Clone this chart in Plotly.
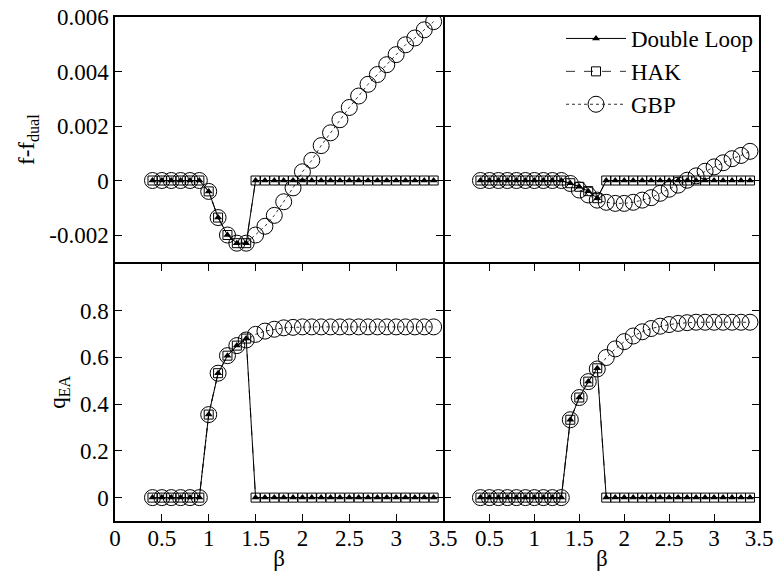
import plotly.graph_objects as go

beta = [0.4, 0.5, 0.6, 0.7, 0.8, 0.9, 1.0, 1.1, 1.2, 1.3, 1.4, 1.5, 1.6, 1.7, 1.8, 1.9,
        2.0, 2.1, 2.2, 2.3, 2.4, 2.5, 2.6, 2.7, 2.8, 2.9, 3.0, 3.1, 3.2, 3.3, 3.4]

# top-left: f - f_dual
tl_dl = [0, 0, 0, 0, 0, 0, -0.0004, -0.00136, -0.002, -0.0023, -0.0023,
         0, 0, 0, 0, 0, 0, 0, 0, 0, 0, 0, 0, 0, 0, 0, 0, 0, 0, 0, 0]
tl_hak = list(tl_dl)
tl_gbp = [0, 0, 0, 0, 0, 0, -0.0004, -0.00136, -0.002, -0.0023, -0.0023,
          -0.002, -0.00168, -0.00128, -0.00078, -0.00027, 0.00032, 0.00074, 0.00128,
          0.00175, 0.00223, 0.00268, 0.0031, 0.00353, 0.00389, 0.00425, 0.00462,
          0.00498, 0.00523, 0.00553, 0.00583]

# top-right: f - f_dual
tr_dl = [0, 0, 0, 0, 0, 0, 0, 0, 0, 0, -0.0001, -0.00023, -0.00039, -0.00065,
         0, 0, 0, 0, 0, 0, 0, 0, 0, 0, 0, 0, 0, 0, 0, 0, 0]
tr_hak = list(tr_dl)
tr_gbp = [0, 0, 0, 0, 0, 0, 0, 0, 0, 0, -0.00011, -0.00035, -0.00053, -0.00072,
          -0.0008, -0.00084, -0.00084, -0.0008, -0.00072, -0.00063, -0.00047, -0.00032,
          -0.00017, 0.00001, 0.00017, 0.00034, 0.0005, 0.00065, 0.0008, 0.00092, 0.00107]

# bottom-left: q_EA
bl_dl = [0, 0, 0, 0, 0, 0, 0.355, 0.532, 0.607, 0.65, 0.68,
         0, 0, 0, 0, 0, 0, 0, 0, 0, 0, 0, 0, 0, 0, 0, 0, 0, 0, 0, 0]
bl_hak = list(bl_dl)
bl_gbp = [0, 0, 0, 0, 0, 0, 0.355, 0.532, 0.607, 0.65, 0.674, 0.698, 0.712, 0.72,
          0.726, 0.728, 0.73, 0.73, 0.73, 0.73, 0.73, 0.73, 0.73, 0.73, 0.73, 0.73,
          0.73, 0.73, 0.73, 0.73, 0.73]

# bottom-right: q_EA
br_dl = [0, 0, 0, 0, 0, 0, 0, 0, 0, 0, 0.333, 0.428, 0.496, 0.553,
         0, 0, 0, 0, 0, 0, 0, 0, 0, 0, 0, 0, 0, 0, 0, 0, 0]
br_hak = list(br_dl)
br_gbp = [0, 0, 0, 0, 0, 0, 0, 0, 0, 0, 0.333, 0.428, 0.496, 0.55, 0.599, 0.636,
          0.667, 0.691, 0.709, 0.723, 0.733, 0.74, 0.745, 0.748, 0.75, 0.75, 0.75,
          0.75, 0.75, 0.75, 0.75]

x_ticks_left = [0, 0.5, 1, 1.5, 2, 2.5, 3, 3.5]
x_text_left = ["0", "0.5", "1", "1.5", "2", "2.5", "3", "3.5"]
x_ticks_right = [0.5, 1, 1.5, 2, 2.5, 3, 3.5]
x_text_right = ["0.5", "1", "1.5", "2", "2.5", "3", "3.5"]
f_ticks = [-0.002, 0, 0.002, 0.004, 0.006]
f_text = ["-0.002", "0", "0.002", "0.004", "0.006"]
q_ticks = [0, 0.2, 0.4, 0.6, 0.8]
q_text = ["0", "0.2", "0.4", "0.6", "0.8"]

FONT = "Liberation Serif, Times New Roman, Times, serif"
FS = 23

fig = go.Figure()

panels = [
    ("x", "y", tl_dl, tl_hak, tl_gbp, True),
    ("x2", "y2", tr_dl, tr_hak, tr_gbp, False),
    ("x3", "y3", bl_dl, bl_hak, bl_gbp, False),
    ("x4", "y4", br_dl, br_hak, br_gbp, False),
]

for xa, ya, dl, hak, gbp, show in panels:
    fig.add_trace(go.Scatter(
        x=beta, y=gbp, xaxis=xa, yaxis=ya, name="GBP", legendrank=3,
        mode="lines+markers", showlegend=show,
        line=dict(color="#333333", width=1, dash="dot"),
        marker=dict(symbol="circle-open", size=16, color="black",
                    line=dict(width=1, color="black")),
        hoverinfo="skip"))
    fig.add_trace(go.Scatter(
        x=beta, y=hak, xaxis=xa, yaxis=ya, name="HAK", legendrank=2,
        mode="lines+markers", showlegend=show,
        line=dict(color="#333333", width=1, dash="dash"),
        marker=dict(symbol="square-open", size=9, color="black",
                    line=dict(width=1, color="black")),
        hoverinfo="skip"))
    fig.add_trace(go.Scatter(
        x=beta, y=dl, xaxis=xa, yaxis=ya, name="Double Loop", legendrank=1,
        mode="lines+markers", showlegend=show,
        line=dict(color="black", width=1),
        marker=dict(symbol="triangle-up", size=7, color="black"),
        hoverinfo="skip"))

W, H = 776, 583
ML, MR, MT, MB = 115, 17, 17, 62
pw = W - ML - MR
ph = H - MT - MB
LW = 1.5
xsplit = (443 - 115) / pw
ysplit = (521 - 263) / ph
gx = LW / pw
gy = LW / ph

axis_common = dict(showline=True, linecolor="black", linewidth=LW, mirror=True,
                   showgrid=False, zeroline=False, ticklabeloverflow="allow",
                   tickfont=dict(family=FONT, size=FS, color="black"),
                   ticklen=7, tickwidth=1, tickcolor="black")

fig.update_layout(
    width=W, height=H,
    margin=dict(l=ML, r=MR, t=MT, b=MB, autoexpand=False),
    paper_bgcolor="white", plot_bgcolor="white",
    font=dict(family=FONT, size=FS, color="black"),
    showlegend=True,
    legend=dict(x=1, y=1, xanchor="right", yanchor="top",
                bgcolor="rgba(0,0,0,0)", font=dict(family=FONT, size=FS),
                tracegroupgap=0, itemwidth=60),
    xaxis=dict(domain=[0, xsplit], range=[0, 3.5], anchor="y",
               ticks="", showticklabels=False, **axis_common),
    yaxis=dict(domain=[ysplit + gy / 2, 1], range=[-0.003, 0.006], anchor="x",
               ticks="inside", tickvals=f_ticks, ticktext=f_text,
               title=dict(text="f-f<sub>dual</sub>", standoff=8,
                          font=dict(family=FONT, size=FS)),
               **{**axis_common, "mirror": "allticks"}),
    xaxis2=dict(domain=[xsplit + gx, 1], range=[0, 3.5], anchor="y2",
                ticks="", showticklabels=False, **axis_common),
    yaxis2=dict(domain=[ysplit + gy / 2, 1], range=[-0.003, 0.006], anchor="x2",
                ticks="inside", tickvals=f_ticks, showticklabels=False,
                **{**axis_common, "mirror": "allticks"}),
    xaxis3=dict(domain=[0, xsplit], range=[0, 3.5], anchor="y3",
                ticks="inside", tickvals=x_ticks_left, ticktext=x_text_left,
                ticklabelstandoff=-4,
                title=dict(text="β", standoff=0, font=dict(family=FONT, size=FS)),
                **{**axis_common, "mirror": "allticks"}),
    yaxis3=dict(domain=[0, ysplit - gy / 2], range=[-0.1, 1.0], anchor="x3",
                ticks="inside", tickvals=q_ticks, ticktext=q_text,
                title=dict(text="q<sub>EA</sub>", standoff=8,
                           font=dict(family=FONT, size=FS)),
                **{**axis_common, "mirror": "allticks"}),
    xaxis4=dict(domain=[xsplit + gx, 1], range=[0, 3.5], anchor="y4",
                ticks="inside", tickvals=x_ticks_right, ticktext=x_text_right,
                ticklabelstandoff=-4,
                title=dict(text="β", standoff=0, font=dict(family=FONT, size=FS)),
                **{**axis_common, "mirror": "allticks"}),
    yaxis4=dict(domain=[0, ysplit - gy / 2], range=[-0.1, 1.0], anchor="x4",
                ticks="inside", tickvals=q_ticks, showticklabels=False,
                **{**axis_common, "mirror": "allticks"}),
)

fig.write_html("out.html", config={"displayModeBar": False},
               post_script="document.body.style.margin='0';")
